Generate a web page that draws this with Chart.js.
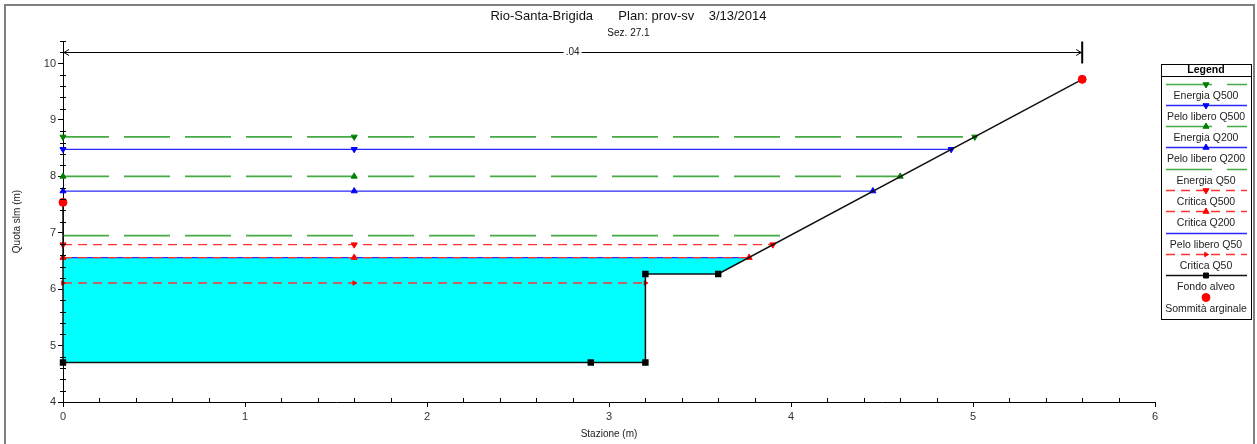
<!DOCTYPE html>
<html>
<head>
<meta charset="utf-8">
<script src="https://cdn.jsdelivr.net/npm/chart.js@4.4.1/dist/chart.umd.min.js"></script>
<style>
  html, body { margin: 0; padding: 0; background: #fff; }
  #wrap { width: 1257px; height: 444px; }
</style>
</head>
<body>
<div id="wrap"><canvas id="c" width="1257" height="444"></canvas></div>
<script>
// Sez. 27.1 - ground points, bank tops and computed levels (m)
const groundSta = [0, 0, 2.9, 3.2, 3.2, 3.6, 5.6];
const groundElev = [7.54, 4.7, 4.7, 4.7, 6.27, 6.27, 9.72];
const bankSta = [0, 5.6];
const bankElev = [7.54, 9.72];

const profileNames = ['Energia Q500', 'Pelo libero Q500', 'Energia Q200', 'Pelo libero Q200', 'Energia Q50',
    'Critica Q500', 'Critica Q200', 'Pelo libero Q50', 'Critica Q50'];
const profileLevels = [8.70, 8.48, 8.00, 7.74, 6.95, 6.79, 6.56, 6.56, 6.11];
const profileEnds = [5.01, 4.88, 4.60, 4.45, 3.98, 3.90, 3.77, 3.77, 3.2];
const markerSta = 1.6;

// wetted area for Q50
const waterSta = [0, 3.77, 3.6, 3.2, 3.2, 0, 0];
const waterElev = [6.56, 6.56, 6.27, 6.27, 4.7, 4.7, 6.56];

// Manning n band
const nSta = [0, 5.6];
const nValue = '.04';
const nElev = 10.2;

const legendOrder = profileNames.concat(['Fondo alveo', 'Sommità arginale']);

Chart.defaults.font.family = "'Liberation Sans', Arial, sans-serif";

const isWhole = v => Math.abs(v - Math.round(v)) < 1e-6;

function styleFor(name) {
    let s;
    if (name.startsWith('Energia')) s = { color: 'rgb(70,170,70)', point: '#008000', dash: [46, 15], width: 1.6 };
    else if (name.startsWith('Pelo')) s = { color: '#2a2aff', point: '#0000ff', dash: [], width: 1.3 };
    else s = { color: '#ff3333', point: '#ff0000', dash: [9, 6], width: 1.3 };
    if (name.endsWith('Q500')) { s.marker = 'triangle'; s.rot = 180; s.r = 3.5; }
    else if (name.endsWith('Q200')) { s.marker = 'triangle'; s.rot = 0; s.r = 3.5; }
    else if (name.startsWith('Critica')) { s.marker = 'triangle'; s.rot = 90; s.r = 2.5; }
    else { s.marker = 'circle'; s.rot = 0; s.r = 0; }
    return s;
}

const datasets = [];

datasets.push({
    label: 'Sommità arginale',
    data: bankSta.map((x, i) => ({ x, y: bankElev[i] })),
    showLine: false,
    pointStyle: 'circle',
    pointRadius: 4,
    pointBackgroundColor: '#ff0000',
    pointBorderColor: '#ff0000',
    legendRadius: 4,
    clip: false,
    order: 0
});

datasets.push({
    label: 'Fondo alveo',
    data: groundSta.map((x, i) => ({ x, y: groundElev[i] })),
    borderColor: '#111',
    borderWidth: 1.5,
    pointStyle: 'rect',
    pointRadius: groundSta.map((x, i) => (i === 0 || i === groundSta.length - 1) ? 0 : 3.5),
    pointBackgroundColor: '#000',
    pointBorderColor: '#000',
    legendRadius: 3.5,
    clip: false,
    order: 1
});

profileNames.forEach((name, i) => {
    const s = styleFor(name);
    const y = profileLevels[i];
    datasets.push({
        label: name,
        data: [{ x: 0, y }, { x: markerSta, y }, { x: profileEnds[i], y }],
        borderColor: s.color,
        borderWidth: s.width,
        borderDash: s.dash,
        pointStyle: s.marker,
        rotation: s.rot,
        pointRadius: s.r,
        pointBorderWidth: 1,
        pointBackgroundColor: s.point,
        pointBorderColor: s.point,
        legendRadius: s.r,
        clip: false,
        order: 2 + i
    });
});

datasets.push({
    label: 'water',
    data: waterSta.map((x, i) => ({ x, y: waterElev[i] })),
    borderColor: 'rgba(0,0,0,0)',
    borderWidth: 0,
    backgroundColor: '#00ffff',
    fill: 'shape',
    pointRadius: 0,
    order: 30
});

// white page + grey frame
const framePlugin = {
    id: 'frame',
    beforeDraw(chart) {
        const ctx = chart.ctx;
        ctx.save();
        ctx.fillStyle = '#fff';
        ctx.fillRect(0, 0, chart.width, chart.height);
        ctx.restore();
    },
    afterDraw(chart) {
        const ctx = chart.ctx;
        ctx.save();
        ctx.strokeStyle = '#808080';
        ctx.lineWidth = 2;
        ctx.beginPath();
        ctx.moveTo(5, chart.height);
        ctx.lineTo(5, 5);
        ctx.lineTo(1254, 5);
        ctx.lineTo(1254, chart.height);
        ctx.stroke();
        ctx.restore();
    }
};

// short minor ticks crossing the axes
const minorTicks = {
    id: 'minorTicks',
    afterDraw(chart) {
        const ctx = chart.ctx;
        const xs = chart.scales.x, ys = chart.scales.y;
        const a = chart.chartArea;
        ctx.save();
        ctx.strokeStyle = '#000';
        ctx.lineWidth = 1;
        ctx.beginPath();
        xs.ticks.forEach(t => {
            if (isWhole(t.value)) return;
            const px = Math.round(xs.getPixelForValue(t.value)) + 0.5;
            ctx.moveTo(px, a.bottom - 4);
            ctx.lineTo(px, a.bottom + 1);
        });
        ys.ticks.forEach(t => {
            if (isWhole(t.value)) return;
            const py = Math.round(ys.getPixelForValue(t.value)) + 0.5;
            ctx.moveTo(a.left - 3, py);
            ctx.lineTo(a.left + 3, py);
        });
        ctx.stroke();
        ctx.restore();
    }
};

// Manning n band above the section
const nBand = {
    id: 'nBand',
    afterDatasetsDraw(chart) {
        const ctx = chart.ctx;
        const xs = chart.scales.x, ys = chart.scales.y;
        const y = Math.round(ys.getPixelForValue(nElev)) + 0.5;
        const x0 = xs.getPixelForValue(nSta[0]);
        const x1 = xs.getPixelForValue(nSta[1]);
        ctx.save();
        ctx.strokeStyle = '#000';
        ctx.fillStyle = '#000';
        ctx.lineWidth = 1;
        ctx.beginPath();
        ctx.moveTo(x0, y);
        ctx.lineTo(x1, y);
        ctx.moveTo(x0 + 6, y - 3);
        ctx.lineTo(x0 + 1, y);
        ctx.lineTo(x0 + 6, y + 3);
        ctx.moveTo(x1 - 6, y - 3);
        ctx.lineTo(x1 - 1, y);
        ctx.lineTo(x1 - 6, y + 3);
        ctx.stroke();
        ctx.lineWidth = 2;
        ctx.beginPath();
        ctx.moveTo(x1, y - 11);
        ctx.lineTo(x1, y + 11);
        ctx.stroke();
        const xm = (x0 + x1) / 2;
        ctx.font = "10px 'Liberation Sans', Arial, sans-serif";
        const w = ctx.measureText(nValue).width;
        ctx.fillStyle = '#fff';
        ctx.fillRect(xm - w / 2 - 2, y - 6, w + 4, 12);
        ctx.fillStyle = '#222';
        ctx.textAlign = 'center';
        ctx.textBaseline = 'middle';
        ctx.fillText(nValue, xm, y);
        ctx.restore();
    }
};

// boxed legend on the right, sample line above each label
const boxLegend = {
    id: 'boxLegend',
    afterDraw(chart) {
        const ctx = chart.ctx;
        const L = 1161, R = 1251, T = 64, B = 319;
        const cx = 1206;
        ctx.save();
        ctx.strokeStyle = '#000';
        ctx.lineWidth = 1;
        ctx.strokeRect(L + 0.5, T + 0.5, R - L, B - T);
        ctx.beginPath();
        ctx.moveTo(L, 76.5);
        ctx.lineTo(R + 1, 76.5);
        ctx.stroke();
        ctx.fillStyle = '#000';
        ctx.textAlign = 'center';
        ctx.textBaseline = 'middle';
        ctx.font = "bold 10.5px 'Liberation Sans', Arial, sans-serif";
        ctx.fillText('Legend', cx, 70.5);
        ctx.font = "10.5px 'Liberation Sans', Arial, sans-serif";
        legendOrder.forEach((name, i) => {
            const ds = chart.data.datasets.find(d => d.label === name);
            const sy = Math.round(83.5 + i * 21.3) + 0.5;
            if (ds.showLine !== false) {
                ctx.save();
                ctx.setLineDash(ds.borderDash || []);
                ctx.strokeStyle = ds.borderColor;
                ctx.lineWidth = ds.borderWidth;
                ctx.beginPath();
                ctx.moveTo(1166, sy);
                ctx.lineTo(1247, sy);
                ctx.stroke();
                ctx.restore();
            }
            if (ds.legendRadius > 0) {
                ctx.fillStyle = ds.pointBackgroundColor;
                ctx.strokeStyle = ds.pointBorderColor;
                Chart.helpers.drawPoint(ctx, {
                    pointStyle: ds.pointStyle,
                    rotation: ds.rotation || 0,
                    radius: ds.legendRadius,
                    borderWidth: 1
                }, cx, sy);
            }
            ctx.fillStyle = '#222';
            ctx.fillText(name, cx, sy + 11.5);
        });
        ctx.restore();
    }
};

new Chart(document.getElementById('c'), {
    type: 'line',
    data: { datasets },
    options: {
        responsive: false,
        animation: false,
        devicePixelRatio: 1,
        layout: { padding: 0 },
        elements: { line: { tension: 0 } },
        plugins: {
            legend: { display: false },
            tooltip: { enabled: false },
            title: {
                display: true,
                text: 'Rio-Santa-Brigida       Plan: prov-sv    3/13/2014',
                color: '#111',
                font: { size: 13, weight: 'normal' },
                padding: { top: 8.4, bottom: 0 }
            },
            subtitle: {
                display: true,
                text: 'Sez. 27.1',
                color: '#111',
                font: { size: 10 },
                padding: { top: 3, bottom: 2 }
            }
        },
        scales: {
            x: {
                type: 'linear',
                position: 'bottom',
                min: 0,
                max: 6,
                ticks: {
                    stepSize: 0.2,
                    maxTicksLimit: 100,
                    autoSkip: false,
                    maxRotation: 0,
                    padding: 3,
                    color: '#333',
                    font: { size: 11 },
                    callback: v => isWhole(v) ? String(Math.round(v)) : ''
                },
                grid: {
                    drawOnChartArea: false,
                    tickLength: 5,
                    tickColor: c => (c.tick && isWhole(c.tick.value)) ? '#000' : 'rgba(0,0,0,0)'
                },
                border: { color: '#000', width: 1 },
                title: {
                    display: true,
                    text: 'Stazione (m)',
                    color: '#222',
                    font: { size: 10 },
                    padding: { top: 0, bottom: 4 }
                },
                afterFit: s => { s.height = 42; }
            },
            y: {
                type: 'linear',
                position: 'left',
                min: 4,
                max: 10.4,
                ticks: {
                    stepSize: 0.2,
                    maxTicksLimit: 100,
                    includeBounds: false,
                    autoSkip: false,
                    padding: 2,
                    color: '#333',
                    font: { size: 11 },
                    callback: v => isWhole(v) ? String(Math.round(v)) : ''
                },
                grid: {
                    drawOnChartArea: false,
                    tickLength: 5,
                    tickColor: c => (c.tick && isWhole(c.tick.value)) ? '#000' : 'rgba(0,0,0,0)'
                },
                border: { color: '#000', width: 1 },
                title: {
                    display: true,
                    text: 'Quota slm (m)',
                    color: '#222',
                    font: { size: 10 },
                    padding: { top: 11, bottom: 0 }
                },
                afterFit: s => { s.width = 63; }
            },
            // empty right axis that keeps room for the legend
            y2: {
                type: 'linear',
                axis: 'y',
                position: 'right',
                display: true,
                ticks: { display: false },
                grid: { display: false },
                border: { display: false },
                afterFit: s => { s.width = 102; }
            }
        }
    },
    plugins: [framePlugin, minorTicks, nBand, boxLegend]
});
</script>
</body>
</html>
